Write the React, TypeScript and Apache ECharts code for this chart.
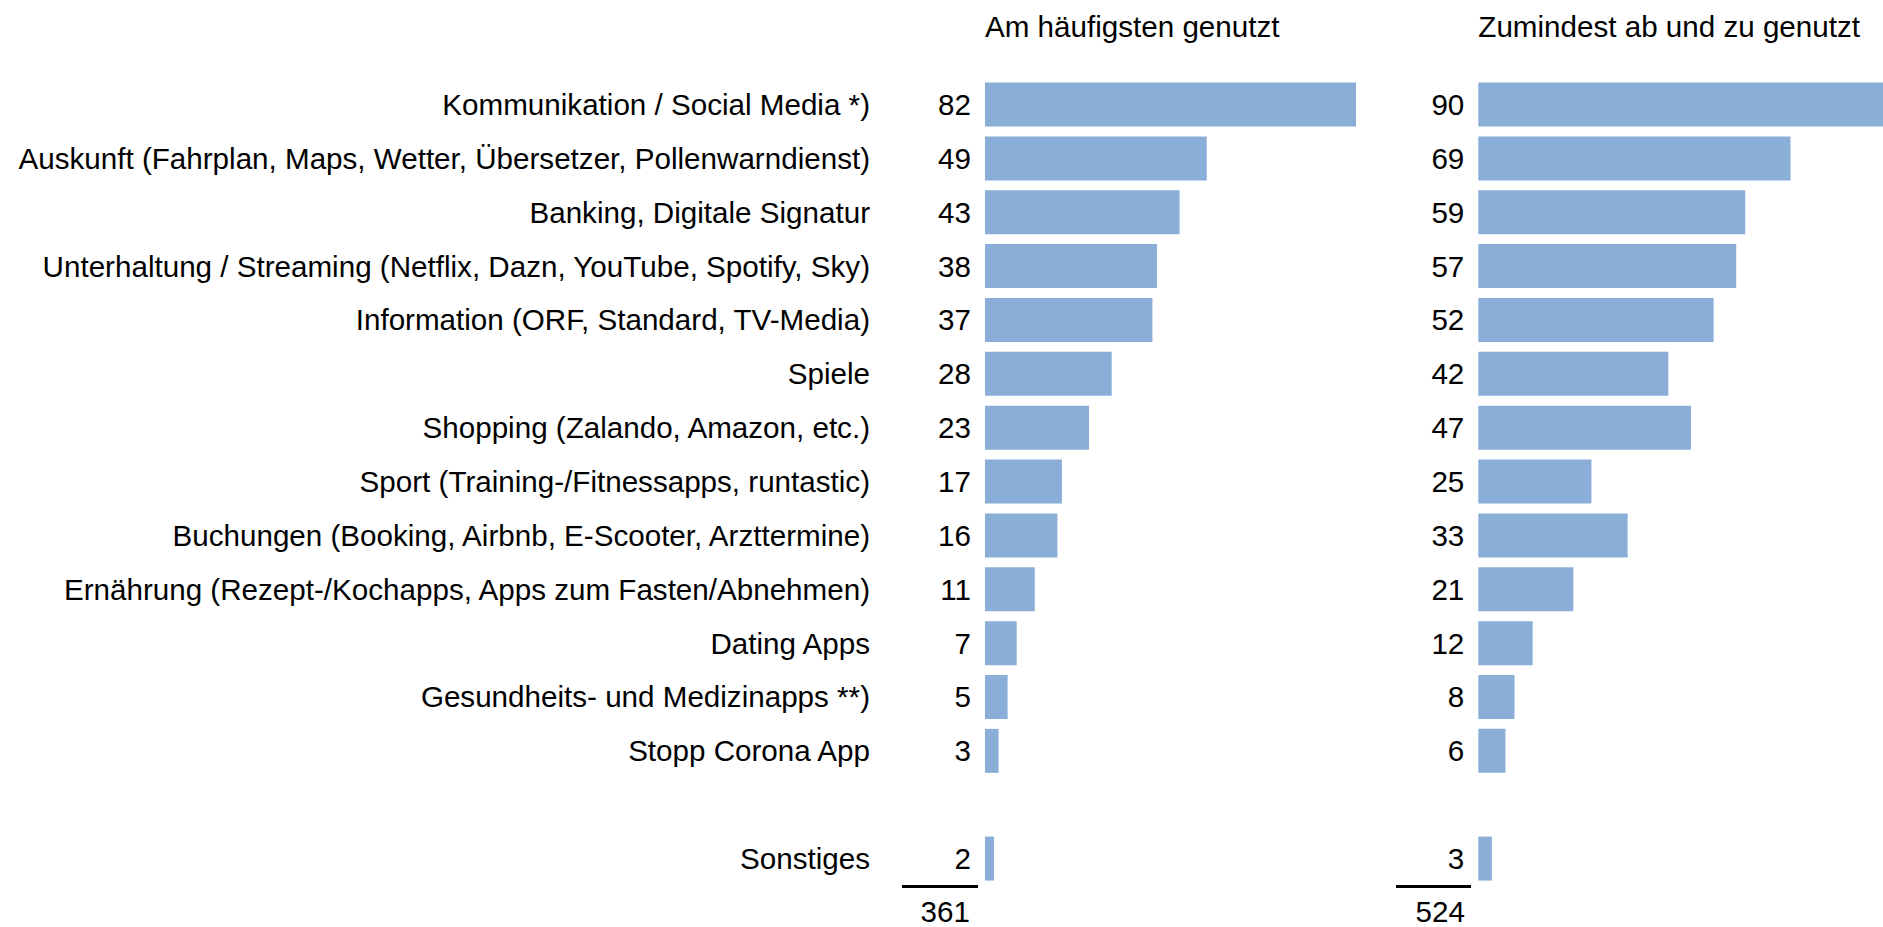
import React, { useEffect, useRef } from "react";
import * as echarts from "echarts";

const categories = [
  "Kommunikation / Social Media *)",
  "Auskunft (Fahrplan, Maps, Wetter, Übersetzer, Pollenwarndienst)",
  "Banking, Digitale Signatur",
  "Unterhaltung / Streaming (Netflix, Dazn, YouTube, Spotify, Sky)",
  "Information (ORF, Standard, TV-Media)",
  "Spiele",
  "Shopping (Zalando, Amazon, etc.)",
  "Sport (Training-/Fitnessapps, runtastic)",
  "Buchungen (Booking, Airbnb, E-Scooter, Arzttermine)",
  "Ernährung (Rezept-/Kochapps, Apps zum Fasten/Abnehmen)",
  "Dating Apps",
  "Gesundheits- und Medizinapps **)",
  "Stopp Corona App",
  "",
  "Sonstiges",
];

const mostUsed: (number | null)[] = [82, 49, 43, 38, 37, 28, 23, 17, 16, 11, 7, 5, 3, null, 2];
const occasionallyUsed: (number | null)[] = [90, 69, 59, 57, 52, 42, 47, 25, 33, 21, 12, 8, 6, null, 3];
const panelTitles = ["Am häufigsten genutzt", "Zumindest ab und zu genutzt"];

const FONT = "Liberation Sans, Arial, sans-serif";
const FS = 29.6;
const BAR_COLOR = "#8AAED8";

const sum = (a: (number | null)[]) => a.reduce((s: number, v) => s + (v ?? 0), 0);

export default function App() {
  const ref = useRef<HTMLDivElement>(null);
  useEffect(() => {
    if (!ref.current) return;
    const chart = echarts.init(ref.current, undefined, { renderer: "svg" });
    const top = 77.6;
    const height = 807.9;
    const gridW = 452.5;
    const leftX = 985;
    const rightX = 1478.3;
    const labelStyle = {
      show: true,
      position: "left" as const,
      distance: 14,
      color: "#000",
      fontSize: FS,
      fontFamily: FONT,
      formatter: (p: any) => (p.value == null ? "" : String(p.value)),
    };
    const textStyle = (text: string, align: string) => ({
      text,
      fill: "#000",
      fontSize: FS,
      fontFamily: FONT,
      align,
      verticalAlign: "middle",
    });
    chart.setOption({
      animation: false,
      grid: [
        { left: leftX, top, width: gridW, height, outerBoundsMode: "none" },
        { left: rightX, top, width: gridW, height, outerBoundsMode: "none" },
      ],
      xAxis: [0, 1].map((i) => ({
        type: "value",
        gridIndex: i,
        min: 0,
        max: 100,
        show: false,
      })),
      yAxis: [0, 1].map((i) => ({
        type: "category",
        gridIndex: i,
        data: categories,
        inverse: true,
        axisLine: { show: false },
        axisTick: { show: false },
        splitLine: { show: false },
        axisLabel: {
          show: i === 0,
          margin: 115,
          color: "#000",
          fontSize: FS,
          fontFamily: FONT,
        },
      })),
      series: [
        {
          type: "bar",
          xAxisIndex: 0,
          yAxisIndex: 0,
          data: mostUsed,
          barWidth: 44,
          itemStyle: { color: BAR_COLOR },
          label: labelStyle,
        },
        {
          type: "bar",
          xAxisIndex: 1,
          yAxisIndex: 1,
          data: occasionallyUsed,
          barWidth: 44,
          itemStyle: { color: BAR_COLOR },
          label: labelStyle,
        },
      ],
      graphic: [
        { type: "text", x: leftX, y: 26.4, style: textStyle(panelTitles[0], "left") },
        { type: "text", x: rightX, y: 26.4, style: textStyle(panelTitles[1], "left") },
        {
          type: "line",
          shape: { x1: 902, y1: 886.5, x2: 978, y2: 886.5 },
          style: { stroke: "#000", lineWidth: 3 },
        },
        {
          type: "line",
          shape: { x1: 1396, y1: 886.5, x2: 1471, y2: 886.5 },
          style: { stroke: "#000", lineWidth: 3 },
        },
        { type: "text", x: 970, y: 911, style: textStyle(String(sum(mostUsed)), "right") },
        { type: "text", x: 1465, y: 911, style: textStyle(String(sum(occasionallyUsed)), "right") },
      ],
    });
    return () => chart.dispose();
  }, []);
  return (
    <div
      ref={ref}
      style={{ position: "fixed", left: 0, top: 0, width: 1883, height: 927, background: "#fff" }}
    />
  );
}
